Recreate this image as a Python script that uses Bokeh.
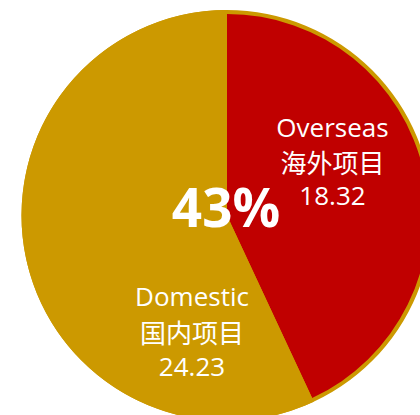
import math
from bokeh.plotting import figure
from bokeh.models import Range1d, ColumnDataSource
from bokeh.core.properties import value
from bokeh.embed import file_html
from bokeh.resources import INLINE

# ---- data ----
labels_en = ["Overseas", "Domestic"]
labels_zh = ["海外项目", "国内项目"]
amounts = [18.32, 24.23]
colors = ["#C00000", "#CC9900"]

# ---- layout (pixels == data units) ----
W, H = 420, 415
cx, cy = 226.5, 200.0
R_outer = 205.5
R_red = 201.5

p = figure(width=W, height=H, output_backend="svg", toolbar_location=None,
           x_range=Range1d(0, W), y_range=Range1d(0, H), min_border=0)
p.axis.visible = False
p.grid.visible = False
p.outline_line_color = None
p.background_fill_color = "white"
p.border_fill_color = "white"

total = sum(amounts)
starts, ends = [], []
a = math.pi / 2
for v in amounts:
    starts.append(a)
    a -= 2 * math.pi * v / total
    ends.append(a)

# gold rim underneath
p.circle(x=[cx], y=[cy], radius=R_outer, fill_color=colors[1], line_color=None)

radii = [R_red, R_outer]
src = ColumnDataSource(dict(x=[cx] * 2, y=[cy] * 2, r=radii, s=starts, e=ends, c=colors))
p.wedge(x="x", y="y", radius="r", start_angle="s", end_angle="e", direction="clock",
        fill_color="c", line_color=None, source=src)

# labels
lab_x = [332.0, 191.5]
lab_y_en = [289.0, 119.7]
lab_y_zh = [254.0, 84.5]
lab_y_val = [220.0, 49.0]
vals = ["%.2f" % v for v in amounts]

p.text(x=lab_x, y=lab_y_en, text=labels_en, text_color="white", text_align="center",
       text_baseline="alphabetic", text_font=value("Open Sans"), text_font_size="26px")
p.text(x=lab_x, y=lab_y_zh, text=labels_zh, text_color="white", text_align="center",
       text_baseline="alphabetic", text_font=value("Noto Sans CJK SC"), text_font_size="26px")
p.text(x=lab_x, y=lab_y_val, text=vals, text_color="white", text_align="center",
       text_baseline="alphabetic", text_font=value("Open Sans"), text_font_size="26px")

pct = "%d%%" % round(amounts[0] / total * 100)
p.text(x=[225.5], y=[209.0], text=[pct], text_color="white", text_align="center",
       text_baseline="alphabetic", text_font=value("Open Sans"), text_font_size="53px",
       text_font_style="bold")

open("out.html", "w").write(file_html(p, INLINE))
